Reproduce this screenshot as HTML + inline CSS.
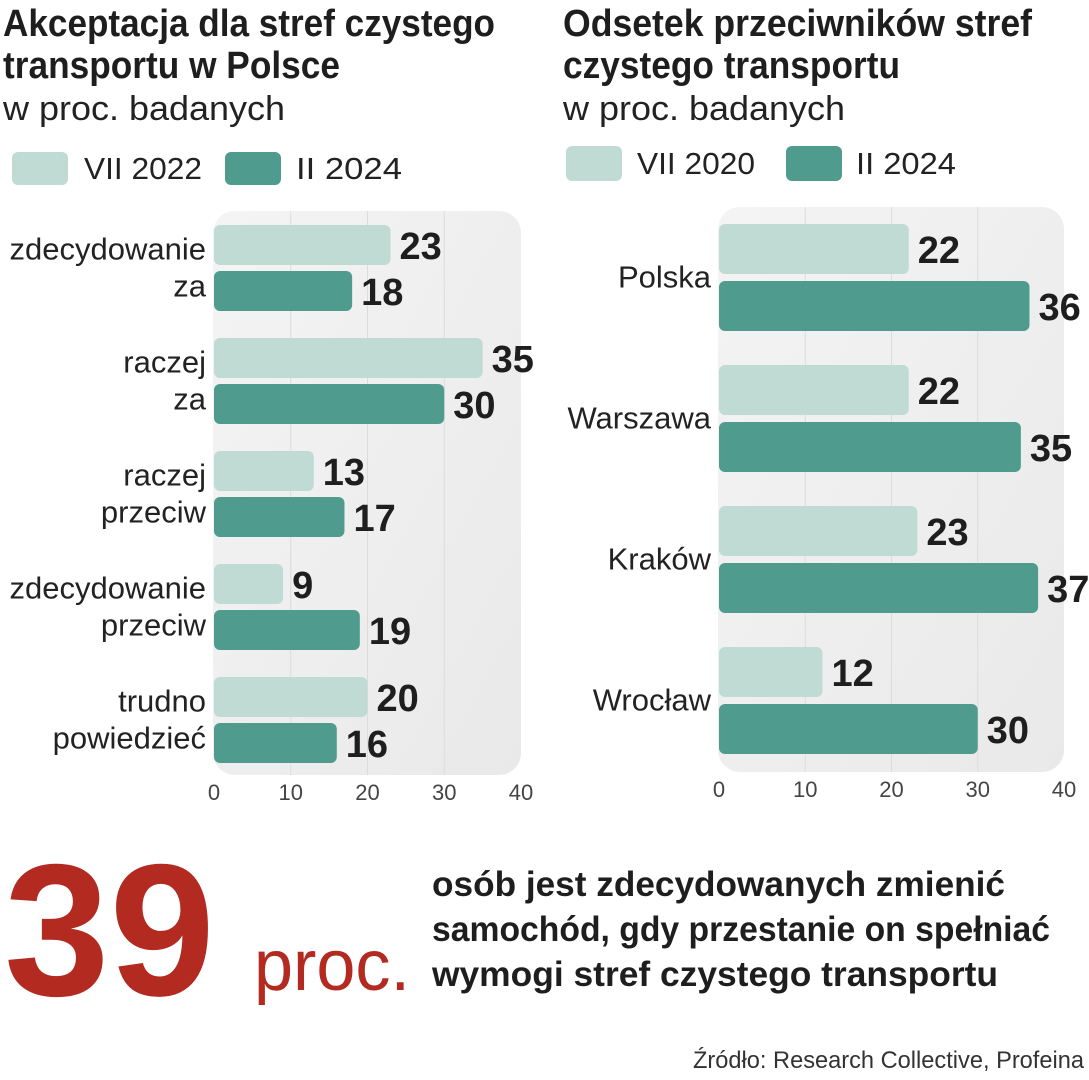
<!DOCTYPE html>
<html><head><meta charset="utf-8">
<style>
body{margin:0;width:1089px;height:1080px;background:#fff;overflow:hidden;font-family:"Liberation Sans",sans-serif;}
svg{display:block}
.t{font-family:"Liberation Sans",sans-serif;font-weight:bold;fill:#1e1e1e}
.sub{font-family:"Liberation Sans",sans-serif;fill:#222;font-weight:300}
.cat{font-family:"Liberation Sans",sans-serif;fill:#222;font-size:31px}
.val{font-family:"Liberation Sans",sans-serif;font-weight:bold;fill:#1e1e1e;font-size:38px}
.tick{font-family:"Liberation Sans",sans-serif;fill:#444;font-size:22px}
</style></head><body>
<svg id="s" width="1089" height="1080">
<defs>
<linearGradient id="pg" x1="0" y1="0" x2="1" y2="1"><stop offset="0" stop-color="#f4f4f4"/><stop offset="1" stop-color="#e9e9e9"/></linearGradient>
</defs>
<g>
<text class="t" x="3" y="36" font-size="38" textLength="492" lengthAdjust="spacingAndGlyphs">Akceptacja dla stref czystego</text>
<text class="t" x="3" y="78" font-size="38" textLength="337" lengthAdjust="spacingAndGlyphs">transportu w Polsce</text>
<text class="sub" x="3" y="120" font-size="34" textLength="282" lengthAdjust="spacingAndGlyphs">w proc. badanych</text>
</g>
<g>
<text class="t" x="563" y="36" font-size="38" textLength="469" lengthAdjust="spacingAndGlyphs">Odsetek przeciwników stref</text>
<text class="t" x="563" y="78" font-size="38" textLength="337" lengthAdjust="spacingAndGlyphs">czystego transportu</text>
<text class="sub" x="563" y="120" font-size="34" textLength="282" lengthAdjust="spacingAndGlyphs">w proc. badanych</text>
</g>
<g>
<rect x="12" y="152" width="56" height="33" rx="6" fill="#c0dbd4"/>
<text class="sub" x="84" y="179" font-size="31" textLength="118" lengthAdjust="spacingAndGlyphs">VII 2022</text>
<rect x="225" y="152" width="56" height="33" rx="6" fill="#4f9b8e"/>
<text class="sub" x="296" y="179" font-size="31" textLength="106" lengthAdjust="spacingAndGlyphs">II 2024</text>
</g>
<g>
<rect x="566" y="146" width="56" height="35" rx="6" fill="#c0dbd4"/>
<text class="sub" x="637" y="174" font-size="31" textLength="118" lengthAdjust="spacingAndGlyphs">VII 2020</text>
<rect x="786" y="146" width="56" height="35" rx="6" fill="#4f9b8e"/>
<text class="sub" x="856" y="174" font-size="31" textLength="100" lengthAdjust="spacingAndGlyphs">II 2024</text>
</g>
<g id="left"></g>
<g id="right"></g>
<g>
<text x="4" y="995" font-size="188" font-weight="bold" fill="#b22a20" font-family="Liberation Sans,sans-serif" textLength="211" lengthAdjust="spacingAndGlyphs">39</text>
<text x="254" y="990" font-size="72" fill="#b22a20" font-family="Liberation Sans,sans-serif" textLength="156" lengthAdjust="spacingAndGlyphs">proc.</text>
<text class="t" x="432" y="896" font-size="35" textLength="573" lengthAdjust="spacingAndGlyphs">osób jest zdecydowanych zmienić</text>
<text class="t" x="432" y="941" font-size="35" textLength="618" lengthAdjust="spacingAndGlyphs">samochód, gdy przestanie on spełniać</text>
<text class="t" x="432" y="986" font-size="35" textLength="566" lengthAdjust="spacingAndGlyphs">wymogi stref czystego transportu</text>
</g>
<text x="693" y="1068" font-size="24" fill="#333" font-family="Liberation Sans,sans-serif" textLength="391" lengthAdjust="spacingAndGlyphs">Źródło: Research Collective, Profeina</text>
</svg>
<script>
const leftCats=[["zdecydowanie","za"],["raczej","za"],["raczej","przeciw"],["zdecydowanie","przeciw"],["trudno","powiedzieć"]];
const left2022=[23,35,13,9,20];
const left2024=[18,30,17,19,16];
const rightCats=["Polska","Warszawa","Kraków","Wrocław"];
const right2020=[22,22,23,12];
const right2024=[36,35,37,30];
const ticks=[0,10,20,30,40];
const NS="http://www.w3.org/2000/svg";
function mk(p,tag,a){const e=document.createElementNS(NS,tag);for(const k in a)e.setAttribute(k,a[k]);p.appendChild(e);return e;}
function chart(g,o){
  const x=v=>o.x0+v*(o.x1-o.x0)/40;
  const panel=mk(g,'rect',{x:o.x0-1,y:o.top,width:o.x1-o.x0+1,height:o.bot-o.top,rx:22,fill:'url(#pg)'});
  
  
  ticks.forEach(t=>{
    if(t>0&&t<40){const l=mk(g,'line',{x1:x(t),x2:x(t),y1:o.top,y2:o.bot,stroke:'#dcdcdc','stroke-width':1});
    
    }
    const tx=mk(g,'text',{x:x(t),y:o.bot+25,'text-anchor':'middle',class:'tick'});tx.textContent=t;
    
    
  });
  o.cats.forEach((c,i)=>{
    const y0=o.g0+i*o.step;
    [[o.a[i],'#c0dbd4',y0,'a'],[o.b[i],'#4f9b8e',y0+o.h+o.gap,'b']].forEach(([v,col,y,s])=>{
      const r=mk(g,'rect',{x:x(0),y:y,width:x(v)-x(0),height:o.h,rx:6,fill:col});
      
      
      const t=mk(g,'text',{x:x(v)+9,y:y+o.h/2+14,class:'val'});t.textContent=v;
      
      
    });
    const lines=Array.isArray(c)?c:[c];
    const cy=y0+o.h+o.gap/2;
    lines.forEach((ln,j)=>{
      const t=mk(g,'text',{x:o.x0-8,y:cy+10+(j-(lines.length-1)/2)*37,'text-anchor':'end',class:'cat'});t.textContent=ln;
      
      
    });
  });
}
chart(document.getElementById('left'),{x0:214,x1:521,top:211,bot:775,cats:leftCats,a:left2022,b:left2024,g0:225,step:113,h:40,gap:6});
chart(document.getElementById('right'),{x0:719,x1:1064,top:207,bot:772,cats:rightCats,a:right2020,b:right2024,g0:224,step:141,h:50,gap:7});
</script>
</body></html>
